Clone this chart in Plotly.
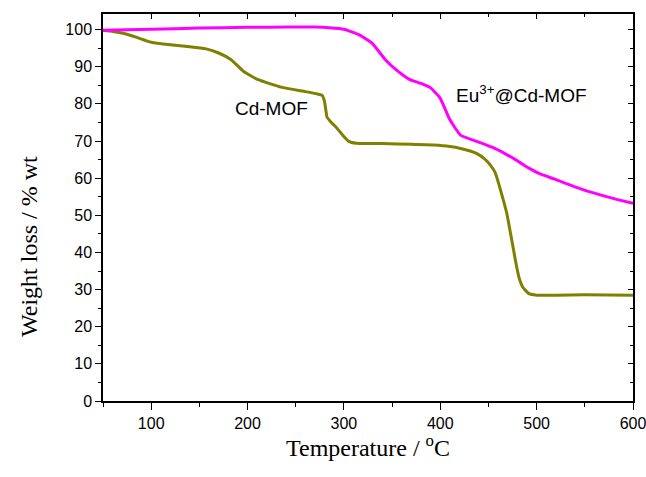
import plotly.graph_objects as go

# Data
cd_temp = [50, 60, 71, 85, 100, 120, 140, 157, 170, 183, 196, 211, 235, 260, 272, 277.5, 280, 282.5,
           287, 293, 299, 305, 313, 340, 370, 393, 410, 421, 431, 438, 446, 452, 457, 461, 465, 469,
           473, 476, 479, 482, 486, 492, 500, 520, 550, 600]
cd_wt = [99.8, 99.5, 99.0, 97.9, 96.6, 95.9, 95.4, 94.8, 93.7, 91.9, 88.7, 86.5, 84.5, 83.3, 82.7, 82.3,
         80.5, 76.4, 75.0, 73.4, 71.5, 69.9, 69.4, 69.3, 69.1, 68.9, 68.5, 68.0, 67.3, 66.6, 65.2, 63.5,
         61.5, 58.2, 54.5, 50.6, 45.0, 40.7, 36.5, 33.0, 30.5, 28.9, 28.5, 28.5, 28.6, 28.5]

eu_temp = [50, 100, 150, 200, 243, 270, 285, 300, 316, 329, 343, 355, 368, 380, 390, 400, 410, 421,
           438, 456, 478, 492, 503, 518, 545, 566, 583, 600]
eu_wt = [99.8, 100.1, 100.4, 100.6, 100.7, 100.7, 100.5, 100.1, 98.6, 96.4, 91.9, 89.0, 86.6, 85.5,
         84.3, 81.5, 75.7, 71.6, 69.9, 68.1, 65.0, 62.7, 61.2, 59.8, 57.2, 55.5, 54.3, 53.2]

x_ticks = [100, 200, 300, 400, 500, 600]
y_ticks = [0, 10, 20, 30, 40, 50, 60, 70, 80, 90, 100]

labels = ["Cd-MOF", "Eu<sup>3+</sup>@Cd-MOF"]
label_pos = [(225, 78.8), (484, 82.7)]

fig = go.Figure()
fig.add_trace(go.Scatter(x=cd_temp, y=cd_wt, mode="lines", name="Cd-MOF",
                         line=dict(color="#808000", width=3, shape="spline", smoothing=0.4)))
fig.add_trace(go.Scatter(x=eu_temp, y=eu_wt, mode="lines", name="Eu@Cd-MOF",
                         line=dict(color="#FF00FF", width=3, shape="spline", smoothing=0.4)))
# invisible trace to carry mirrored inner-tick axes
fig.add_trace(go.Scatter(x=[cd_temp[0]], y=[cd_wt[0]], xaxis="x2", yaxis="y2", mode="markers",
                         marker=dict(opacity=0), hoverinfo="skip", showlegend=False))

tick_font = dict(family="Liberation Sans, Arial, sans-serif", size=16, color="black")

fig.update_layout(
    width=646, height=477,
    margin=dict(l=103, r=13, t=14, b=76, autoexpand=False),
    plot_bgcolor="white", paper_bgcolor="white",
    showlegend=False,
    xaxis=dict(range=[50, 600], tickvals=x_ticks, ticks="outside", ticklen=7, tickwidth=1.2,
               tickcolor="black", showline=True, linecolor="black", linewidth=1.5, automargin=False,
               showgrid=False, zeroline=False, tickfont=tick_font, ticklabeloverflow="allow",
               minor=dict(dtick=50, tick0=0, ticks="outside", ticklen=4, tickcolor="black", tickwidth=1.2)),
    yaxis=dict(range=[0, 104.2], tickvals=y_ticks, ticks="outside", ticklen=6, tickwidth=1.2,
               tickcolor="black", showline=True, linecolor="black", linewidth=1.5, automargin=False,
               showgrid=False, zeroline=False, tickfont=tick_font, ticklabeloverflow="allow",
               minor=dict(dtick=5, tick0=0, ticks="outside", ticklen=3, tickcolor="black", tickwidth=1.2)),
    xaxis2=dict(range=[50, 600], overlaying="x", side="top", tickvals=x_ticks, ticks="inside",
                ticklen=5, tickcolor="black", showticklabels=False, showline=True, linecolor="black",
                linewidth=1.5, showgrid=False, zeroline=False, automargin=False,
                minor=dict(dtick=50, tick0=0, ticks="inside", ticklen=3, tickcolor="black")),
    yaxis2=dict(range=[0, 104.2], overlaying="y", side="right", tickvals=y_ticks, ticks="inside",
                ticklen=5, tickcolor="black", showticklabels=False, showline=True, linecolor="black",
                linewidth=1.5, showgrid=False, zeroline=False, automargin=False,
                minor=dict(dtick=5, tick0=0, ticks="inside", ticklen=3, tickcolor="black")),
)

for text, (lx, ly) in zip(labels, label_pos):
    fig.add_annotation(x=lx, y=ly, xref="x", yref="y", text=text, showarrow=False,
                       font=dict(family="Liberation Sans, Arial, sans-serif", size=19, color="black"))

title_font = dict(family="Liberation Serif, Times New Roman, serif", size=24, color="black")
fig.add_annotation(x=0.5, y=-0.117, xref="paper", yref="paper", text="Temperature / <sup>o</sup>C",
                   showarrow=False, font=title_font, xanchor="center", yanchor="middle")
fig.add_annotation(x=-0.14, y=0.40, xref="paper", yref="paper", text="Weight loss / % wt",
                   showarrow=False, font=title_font, textangle=-90, xanchor="center", yanchor="middle")

fig.write_html("out.html")
